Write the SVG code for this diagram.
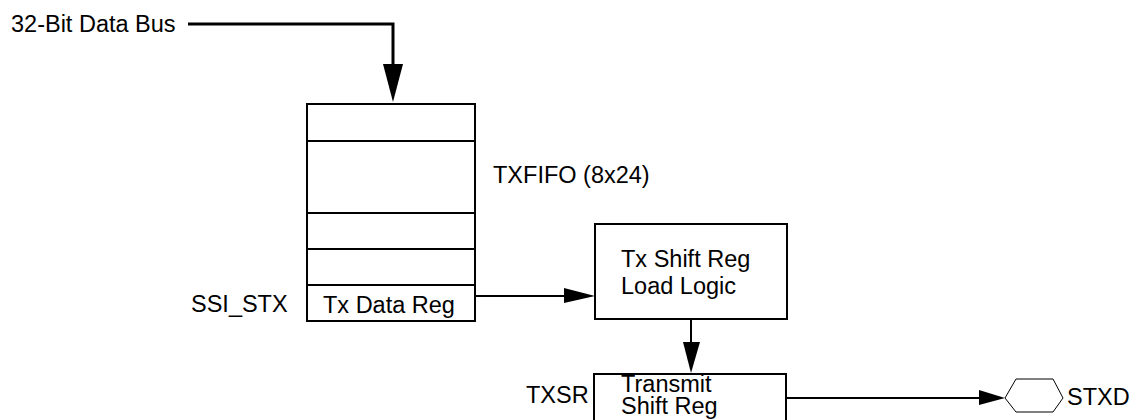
<svg xmlns="http://www.w3.org/2000/svg" width="1133" height="420" viewBox="0 0 1133 420">
<style>
text{font-family:"Liberation Sans",Arial,sans-serif;font-size:23.5px;fill:#000}
.box{fill:#fff;stroke:#000;stroke-width:2}
.ln{fill:none;stroke:#000;stroke-width:2}
.ah{fill:#000;stroke:none}
</style>
<rect width="1133" height="420" fill="#fff"/>
<g id="bus-label"><text x="11" y="32">32-Bit Data Bus</text></g>
<g id="txfifo">
<rect class="box" x="307" y="104" width="168" height="217"/>
<line class="ln" x1="307" y1="141" x2="475" y2="141"/>
<line class="ln" x1="307" y1="213" x2="475" y2="213"/>
<line class="ln" x1="307" y1="249" x2="475" y2="249"/>
<line class="ln" x1="307" y1="285" x2="475" y2="285"/>
<text x="323" y="313">Tx Data Reg</text>
<text x="493" y="183">TXFIFO (8x24)</text>
<text x="191" y="312">SSI_STX</text>
</g>
<g id="loadlogic">
<rect class="box" x="595" y="224" width="192" height="95"/>
<text x="621" y="267">Tx Shift Reg</text>
<text x="621" y="294">Load Logic</text>
</g>
<g id="txsr">
<rect class="box" x="594" y="374" width="192" height="60"/>
<text x="621" y="392">Transmit</text>
<text x="621" y="414">Shift Reg</text>
<text x="526" y="403">TXSR</text>
</g>
<g id="stxd">
<polygon points="1005,398 1016,379 1053,379 1063,398 1053,412 1016,412" fill="#fff" stroke="#000" stroke-width="1"/>
<text x="1067" y="405">STXD</text>
</g>
<g id="connectors">
<polyline points="188,24 393,24 393,66" fill="none" stroke="#000" stroke-width="3"/>
<polygon class="ah" points="383,64 403,64 393,102"/>
<line class="ln" x1="475" y1="296" x2="566" y2="296"/>
<polygon class="ah" points="564,288 595,296 564,303"/>
<line class="ln" x1="691" y1="319" x2="691" y2="344"/>
<polygon class="ah" points="683,342 700,342 691,373"/>
<line class="ln" x1="786" y1="398" x2="981" y2="398"/>
<polygon class="ah" points="979,390 1005,398 979,405"/>
</g>
</svg>
